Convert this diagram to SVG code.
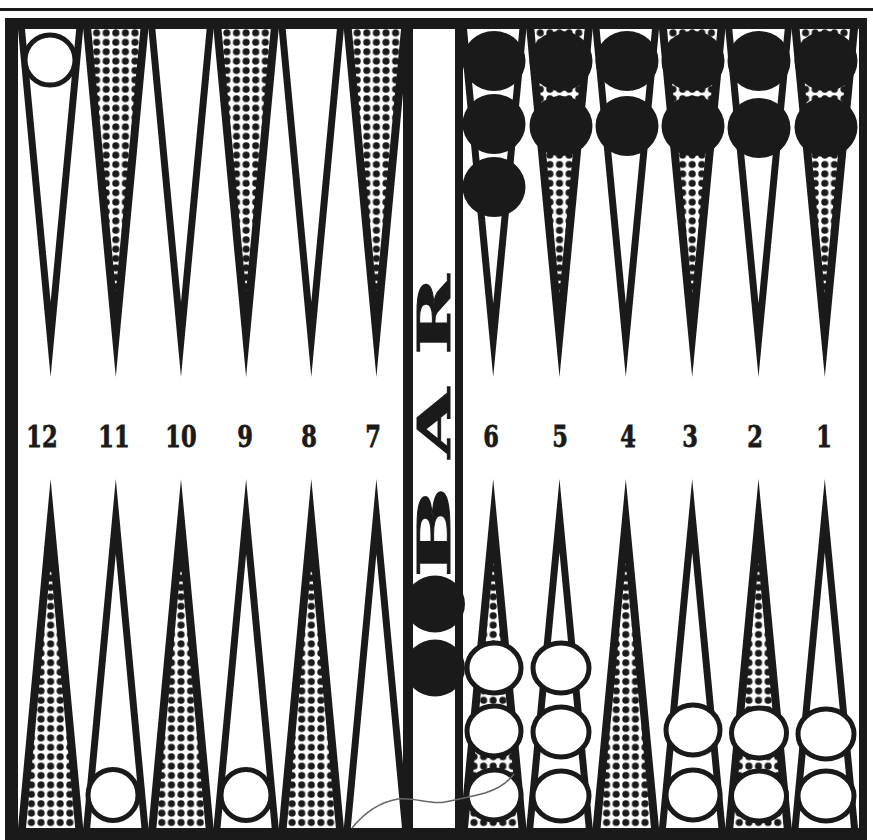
<svg xmlns="http://www.w3.org/2000/svg" xmlns:xlink="http://www.w3.org/1999/xlink" width="873" height="840" viewBox="0 0 873 840">
<defs>
  <pattern id="dots" patternUnits="userSpaceOnUse" x="-4.8" y="0" width="9.6" height="9.4">
    <rect width="9.6" height="9.4" fill="#fff"/>
    <circle cx="4.8" cy="4.7" r="3.6" fill="#1a1a1a"/>
  </pattern>
  <style>
    .blk{fill:#1a1a1a}
    .wht{fill:#fff}
    .dot{fill:url(#dots)}
    .lbl{font-family:"DejaVu Serif","Liberation Serif",serif;font-weight:bold;font-size:30px;fill:#1a1a1a;stroke:#1a1a1a;stroke-width:0.8;text-anchor:middle}
    .bar{font-family:"DejaVu Serif","Liberation Serif",serif;font-weight:bold;font-size:45px;fill:#1a1a1a;stroke:#1a1a1a;stroke-width:1;text-anchor:middle}
    .bc{fill:#1a1a1a}
    .wc{fill:#fff;stroke:#1a1a1a;stroke-width:5}
  </style>
  <!-- top, left half -->
  <g id="tlw"><polygon class="blk" points="-32.6,29 32.6,29 0,377"/><polygon class="wht" points="-25.6,29 25.6,29 0,302"/></g>
  <g id="tld"><polygon class="blk" points="-32.6,29 32.6,29 0,377"/><polygon class="dot" points="-24.6,29 24.6,29 0,291.6"/></g>
  <!-- top, right half -->
  <g id="trw"><polygon class="blk" points="-33.2,29 33.2,29 0,377"/><polygon class="wht" points="-26.2,29 26.2,29 0,303.6"/></g>
  <g id="trd"><polygon class="blk" points="-33.2,29 33.2,29 0,377"/><polygon class="dot" points="-25.2,29 25.2,29 0,293.1"/></g>
  <!-- bottom, left half -->
  <g id="blw"><polygon class="blk" points="-32.6,828 32.6,828 0,479"/><polygon class="wht" points="-25.6,828 25.6,828 0,554"/></g>
  <g id="bld"><polygon class="blk" points="-32.6,828 32.6,828 0,479"/><polygon class="dot" points="-24.6,828 24.6,828 0,564.6"/></g>
  <!-- bottom, right half -->
  <g id="brw"><polygon class="blk" points="-33.2,828 33.2,828 0,479"/><polygon class="wht" points="-26.2,828 26.2,828 0,552.6"/></g>
  <g id="brd"><polygon class="blk" points="-33.2,828 33.2,828 0,479"/><polygon class="dot" points="-25.2,828 25.2,828 0,563.1"/></g>
</defs>

<rect width="873" height="840" fill="#fff"/>
<line x1="0" y1="9.5" x2="873" y2="9.5" stroke="#1a1a1a" stroke-width="3"/>

<g id="points">
  <g id="point-12-top"><use xlink:href="#tlw" transform="translate(50.6,0)"/></g>
  <g id="point-11-top"><use xlink:href="#tld" transform="translate(115.8,0)"/></g>
  <g id="point-10-top"><use xlink:href="#tlw" transform="translate(181,0)"/></g>
  <g id="point-9-top"><use xlink:href="#tld" transform="translate(246.1,0)"/></g>
  <g id="point-8-top"><use xlink:href="#tlw" transform="translate(311.3,0)"/></g>
  <g id="point-7-top"><use xlink:href="#tld" transform="translate(376.4,0)"/></g>
  <g id="point-6-top"><use xlink:href="#trw" transform="translate(493.2,0)"/></g>
  <g id="point-5-top"><use xlink:href="#trd" transform="translate(559.5,0)"/></g>
  <g id="point-4-top"><use xlink:href="#trw" transform="translate(625.8,0)"/></g>
  <g id="point-3-top"><use xlink:href="#trd" transform="translate(692.2,0)"/></g>
  <g id="point-2-top"><use xlink:href="#trw" transform="translate(758.5,0)"/></g>
  <g id="point-1-top"><use xlink:href="#trd" transform="translate(824.8,0)"/></g>

  <g id="point-12-bottom"><use xlink:href="#bld" transform="translate(50.6,0)"/></g>
  <g id="point-11-bottom"><use xlink:href="#blw" transform="translate(115.8,0)"/></g>
  <g id="point-10-bottom"><use xlink:href="#bld" transform="translate(181,0)"/></g>
  <g id="point-9-bottom"><use xlink:href="#blw" transform="translate(246.1,0)"/></g>
  <g id="point-8-bottom"><use xlink:href="#bld" transform="translate(311.3,0)"/></g>
  <g id="point-7-bottom"><use xlink:href="#blw" transform="translate(376.4,0)"/></g>
  <g id="point-6-bottom"><use xlink:href="#brd" transform="translate(493.2,0)"/></g>
  <g id="point-5-bottom"><use xlink:href="#brw" transform="translate(559.5,0)"/></g>
  <g id="point-4-bottom"><use xlink:href="#brd" transform="translate(625.8,0)"/></g>
  <g id="point-3-bottom"><use xlink:href="#brw" transform="translate(692.2,0)"/></g>
  <g id="point-2-bottom"><use xlink:href="#brd" transform="translate(758.5,0)"/></g>
  <g id="point-1-bottom"><use xlink:href="#brw" transform="translate(824.8,0)"/></g>
</g>

<g id="bar">
  <rect x="403" y="20" width="60" height="815" class="blk"/>
  <rect x="413" y="20" width="42" height="815" class="wht"/>
  <text class="bar" transform="translate(433.5,532) rotate(-90) scale(2.4,1)" x="0" y="16.4">B</text>
  <text class="bar" transform="translate(433.5,423) rotate(-90) scale(2.0,1)" x="0" y="16.4">A</text>
  <text class="bar" transform="translate(433.5,315) rotate(-90) scale(2.15,1)" x="0" y="16.4">R</text>
</g>

<g id="frame">
  <path class="blk" fill-rule="evenodd" d="M5,18 H867 V845 H5 Z M18,29 V828 H859 V29 Z"/>
</g>

<g id="labels">
  <text class="lbl" transform="translate(42,447) scale(0.75,1)">12</text>
  <text class="lbl" transform="translate(114,447) scale(0.75,1)">11</text>
  <text class="lbl" transform="translate(181,447) scale(0.75,1)">10</text>
  <text class="lbl" transform="translate(245,447) scale(0.75,1)">9</text>
  <text class="lbl" transform="translate(309,447) scale(0.75,1)">8</text>
  <text class="lbl" transform="translate(373,447) scale(0.75,1)">7</text>
  <text class="lbl" transform="translate(491,447) scale(0.75,1)">6</text>
  <text class="lbl" transform="translate(560,447) scale(0.75,1)">5</text>
  <text class="lbl" transform="translate(628,447) scale(0.75,1)">4</text>
  <text class="lbl" transform="translate(690,447) scale(0.75,1)">3</text>
  <text class="lbl" transform="translate(755,447) scale(0.75,1)">2</text>
  <text class="lbl" transform="translate(824,447) scale(0.75,1)">1</text>
</g>

<g id="checkers">
  <g id="white-12"><ellipse class="wc" cx="50" cy="60" rx="25" ry="25"/></g>
  <g id="black-6"><ellipse class="bc" cx="494" cy="61" rx="31.5" ry="30"/><ellipse class="bc" cx="494" cy="124" rx="31.5" ry="30"/><ellipse class="bc" cx="494" cy="187" rx="31.5" ry="30"/></g>
  <g id="black-5"><ellipse class="bc" cx="561" cy="61" rx="31.5" ry="30"/><ellipse class="bc" cx="561" cy="126" rx="31.5" ry="30"/></g>
  <g id="black-4"><ellipse class="bc" cx="627" cy="61" rx="31.5" ry="30"/><ellipse class="bc" cx="627" cy="126" rx="31.5" ry="30"/></g>
  <g id="black-3"><ellipse class="bc" cx="693" cy="61" rx="31.5" ry="30"/><ellipse class="bc" cx="693" cy="126" rx="31.5" ry="30"/></g>
  <g id="black-2"><ellipse class="bc" cx="759" cy="61" rx="31.5" ry="30"/><ellipse class="bc" cx="759" cy="128" rx="31.5" ry="30"/></g>
  <g id="black-1"><ellipse class="bc" cx="826" cy="61" rx="31.5" ry="30"/><ellipse class="bc" cx="826" cy="127" rx="31.5" ry="30"/></g>
  <g id="black-bar"><ellipse class="bc" cx="435" cy="604" rx="30" ry="28.5"/><ellipse class="bc" cx="435" cy="668" rx="30" ry="28.5"/></g>
  <g id="white-6"><ellipse class="wc" cx="494" cy="668" rx="27" ry="25"/><ellipse class="wc" cx="494" cy="731" rx="27" ry="25"/><ellipse class="wc" cx="494" cy="795" rx="27" ry="25"/></g>
  <g id="white-5"><ellipse class="wc" cx="561" cy="668" rx="28" ry="25"/><ellipse class="wc" cx="561" cy="732" rx="28" ry="25"/><ellipse class="wc" cx="561" cy="796" rx="28" ry="25"/></g>
  <g id="white-3"><ellipse class="wc" cx="693" cy="730" rx="27" ry="25"/><ellipse class="wc" cx="693" cy="795" rx="27" ry="25"/></g>
  <g id="white-2"><ellipse class="wc" cx="759" cy="733" rx="27.5" ry="25"/><ellipse class="wc" cx="759" cy="796" rx="27.5" ry="25"/></g>
  <g id="white-1"><ellipse class="wc" cx="826" cy="734" rx="28" ry="25"/><ellipse class="wc" cx="826" cy="796" rx="28" ry="25"/></g>
  <g id="white-11"><ellipse class="wc" cx="113" cy="795" rx="25" ry="25.5"/></g>
  <g id="white-9"><ellipse class="wc" cx="246" cy="795" rx="25" ry="25.5"/></g>
</g>

<path d="M352,828 C365,812 380,802 398,799 C415,797 430,805 445,802 C460,799 470,797 485,793 C498,789 508,782 514,774" fill="none" stroke="#666" stroke-width="1.5"/>
</svg>
